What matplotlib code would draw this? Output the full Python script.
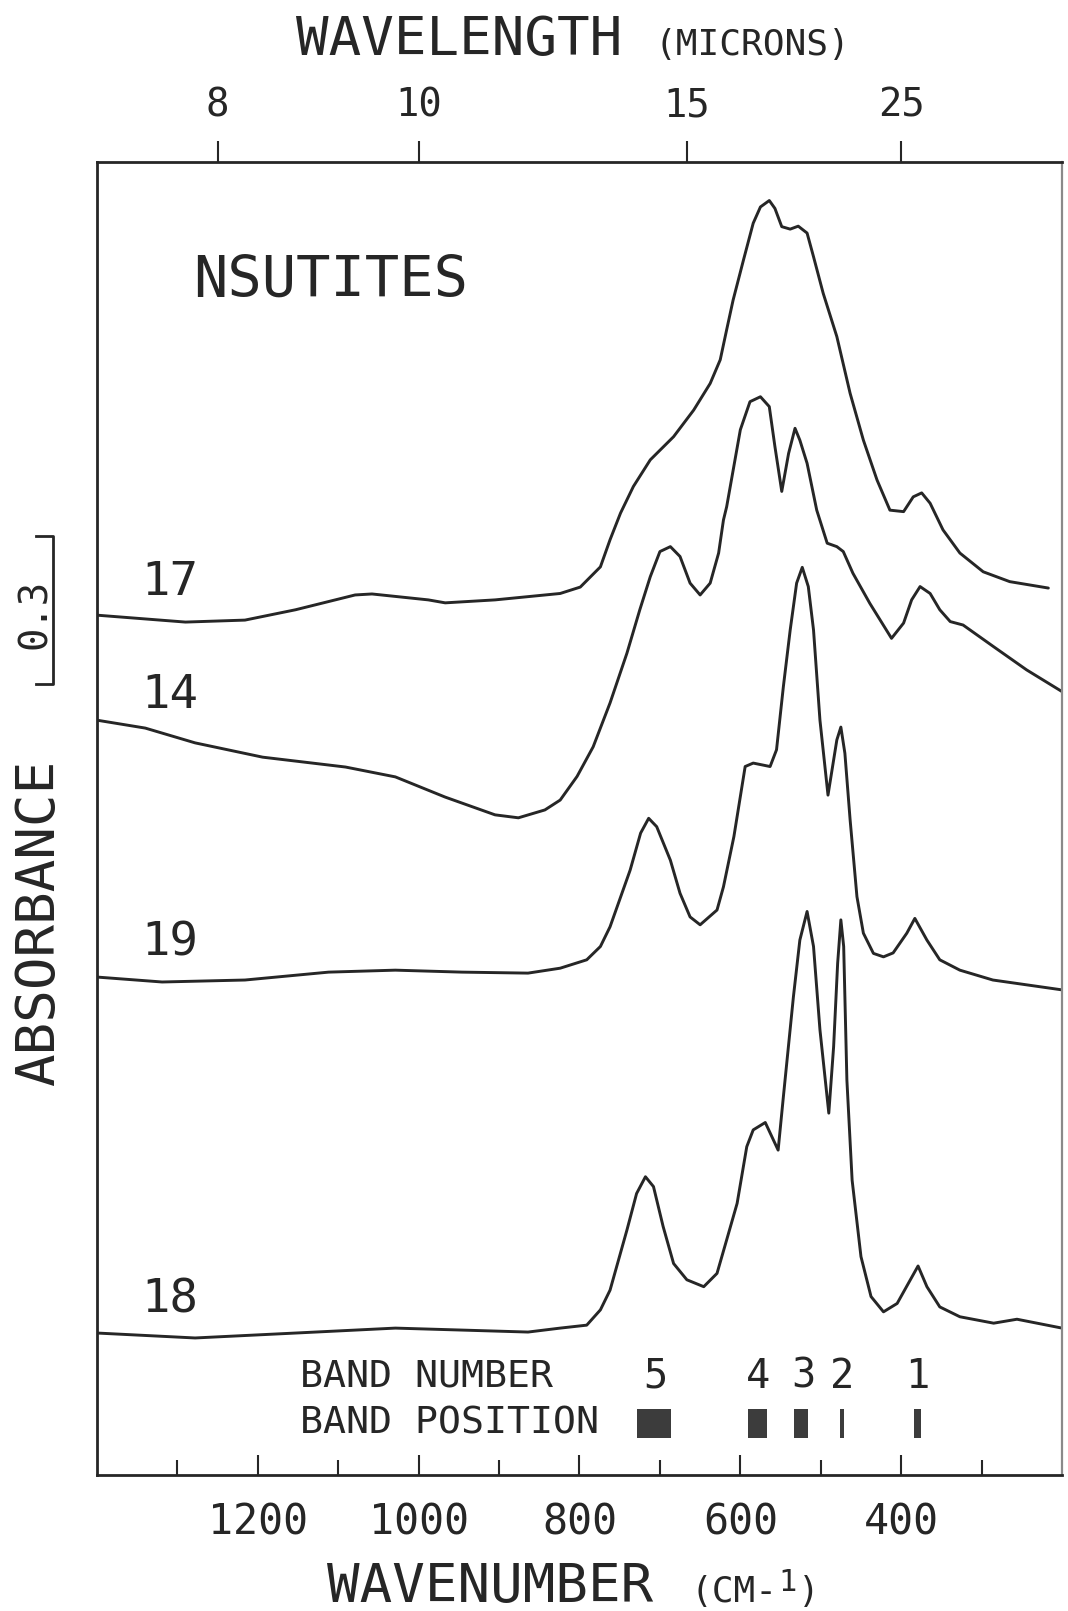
import numpy as np
import matplotlib
matplotlib.use("Agg")
import matplotlib.pyplot as plt
import matplotlib.transforms as mtransforms

# ---------------- data (wavenumber cm-1, absorbance with offsets) ----------------
wn17 = [1400, 1290, 1216, 1153, 1079, 1058, 988, 967, 905, 824, 799, 774, 762, 749,
        733, 712, 683, 658, 637.5, 625, 617, 609, 596, 584, 575, 564, 557, 548.5,
        538, 528, 517, 509, 497, 480, 463.5, 447, 430, 414, 397, 385, 374.5, 364,
        348, 327, 298, 265, 217]
ab17 = [1.744, 1.730, 1.734, 1.755, 1.785, 1.787, 1.775, 1.769, 1.775, 1.788, 1.801,
        1.842, 1.897, 1.951, 2.005, 2.059, 2.106, 2.160, 2.214, 2.262, 2.323, 2.383,
        2.465, 2.539, 2.572, 2.585, 2.569, 2.532, 2.527, 2.533, 2.519, 2.471, 2.397,
        2.309, 2.194, 2.099, 2.018, 1.957, 1.954, 1.984, 1.992, 1.971, 1.917, 1.870,
        1.832, 1.812, 1.799]

wn14 = [1400, 1340, 1278, 1194, 1091, 1029, 967, 905, 876, 843, 824, 803, 783, 762,
        741, 725, 712, 700, 687, 675, 662.5, 650, 637.5, 627, 621, 617, 600, 588,
        575, 564, 557, 548.5, 540, 532, 526, 517, 505, 492, 480, 472, 460, 439,
        412, 397, 387, 376.5, 364, 352, 339, 323, 285, 244, 200]
ab14 = [1.531, 1.515, 1.485, 1.456, 1.436, 1.416, 1.375, 1.339, 1.333, 1.349, 1.369,
        1.417, 1.477, 1.566, 1.667, 1.755, 1.822, 1.873, 1.883, 1.863, 1.809, 1.785,
        1.809, 1.870, 1.937, 1.964, 2.120, 2.177, 2.187, 2.167, 2.086, 1.995, 2.072,
        2.123, 2.099, 2.052, 1.957, 1.890, 1.883, 1.873, 1.829, 1.768, 1.697, 1.728,
        1.775, 1.802, 1.788, 1.755, 1.731, 1.724, 1.680, 1.633, 1.589]

wn19 = [1400, 1319, 1216, 1112, 1029, 946, 864, 824, 791, 774, 762, 737, 724, 714,
        704, 687, 675, 662.5, 650, 629, 621, 608, 594, 584, 563, 555, 546.5, 538,
        530, 523, 515.5, 509, 501, 491, 480, 475, 470, 463.5, 455, 447, 434.5,
        422, 410, 393, 383, 368, 352, 327, 286, 200]
ab19 = [1.010, 1.000, 1.004, 1.020, 1.024, 1.020, 1.018, 1.028, 1.045, 1.072, 1.112,
        1.227, 1.302, 1.332, 1.315, 1.247, 1.180, 1.132, 1.116, 1.146, 1.193, 1.295,
        1.437, 1.444, 1.437, 1.471, 1.599, 1.714, 1.809, 1.841, 1.802, 1.714, 1.531,
        1.379, 1.491, 1.517, 1.464, 1.329, 1.173, 1.099, 1.058, 1.051, 1.059, 1.099,
        1.129, 1.085, 1.045, 1.024, 1.004, 0.984]

wn18 = [1400, 1278, 1153, 1029, 946, 864, 824, 791, 774, 762, 741, 729, 718, 708,
        696, 683, 666.5, 645.5, 629, 617, 604, 592, 584, 569, 553, 546.5, 534, 526,
        517, 509, 501, 490, 484, 479, 475, 471.5, 467.5, 461, 450, 437.5, 422, 405,
        391, 379, 368, 352, 327, 285, 256, 200]
ab18 = [0.288, 0.278, 0.288, 0.298, 0.294, 0.290, 0.298, 0.304, 0.335, 0.375, 0.497,
        0.571, 0.605, 0.585, 0.504, 0.429, 0.396, 0.382, 0.409, 0.477, 0.551, 0.666,
        0.700, 0.715, 0.659, 0.767, 0.970, 1.085, 1.143, 1.072, 0.903, 0.734, 0.869,
        1.038, 1.126, 1.072, 0.801, 0.598, 0.443, 0.362, 0.331, 0.348, 0.389, 0.424,
        0.382, 0.341, 0.321, 0.308, 0.316, 0.298]

spectra = [("17", wn17, ab17), ("14", wn14, ab14), ("19", wn19, ab19), ("18", wn18, ab18)]
label_wn = [1345, 1345, 1345, 1345]
label_ab = [1.811, 1.582, 1.079, 0.355]

band_numbers = ["5", "4", "3", "2", "1"]
band_label_wn = [706, 578, 521, 473, 380]
band_lo = [728, 590, 533, 476, 384]
band_hi = [686, 567, 516, 471, 375]

wavelength_ticks = [8, 10, 15, 25]
wavenumber_major = [1200, 1000, 800, 600, 400]
wavenumber_minor = [1300, 1100, 900, 700, 500, 300]
scale_bar = 0.3

# ---------------- style ----------------
FONT = "DejaVu Sans Mono"
INK = "#262626"
plt.rcParams["font.family"] = [FONT]

fig = plt.figure(figsize=(10.68, 16.11), dpi=100)
ax = fig.add_axes([0.0908, 0.0844, 0.9036, 0.8150])
ax.set_xlim(1400, 200)
ax.set_ylim(0, 2.663)

for name, w, a in spectra:
    ax.plot(w, a, color=INK, lw=2.1, solid_joinstyle="round", solid_capstyle="round")

for (name, _, _), lx, ly in zip(spectra, label_wn, label_ab):
    ax.text(lx, ly, name, fontsize=34, ha="left", va="center", color=INK)

ax.text(1281, 2.422, "NSUTITES", fontsize=41, ha="left", va="center", color=INK)

# band table
ax.text(1147, 0.199, "BAND NUMBER", fontsize=27.5, ha="left", va="center", color=INK)
ax.text(1147, 0.105, "BAND POSITION", fontsize=27.5, ha="left", va="center", color=INK)
for n, p in zip(band_numbers, band_label_wn):
    ax.text(p, 0.199, n, fontsize=29, ha="center", va="center", color=INK)
centers = [(l + h) / 2 for l, h in zip(band_lo, band_hi)]
widths = [l - h for l, h in zip(band_lo, band_hi)]
ax.bar(centers, 0.057, width=widths, bottom=0.076, color="#3c3c3c", edgecolor="none")

# spines / ticks
for s in ["left", "bottom", "top"]:
    ax.spines[s].set_linewidth(2.0)
    ax.spines[s].set_color(INK)
ax.spines["right"].set_linewidth(1.6)
ax.spines["right"].set_color("#8a8a8a")
ax.set_yticks([])
ax.set_xticks(wavenumber_major)
ax.set_xticklabels([str(v) for v in wavenumber_major])
ax.set_xticks(wavenumber_minor, minor=True)
ax.tick_params(axis="x", which="major", direction="in", length=14.5, width=1.5,
               top=True, bottom=True, labelsize=30, pad=19, colors=INK)
ax.tick_params(axis="x", which="minor", direction="in", length=10.8, width=1.5,
               top=True, bottom=True, colors=INK)

# wavelength axis on top
ax2 = ax.twiny()
ax2.set_xlim(ax.get_xlim())
ax2.set_xticks([1e4 / w for w in wavelength_ticks])
ax2.set_xticklabels([str(w) for w in wavelength_ticks])
ax2.tick_params(axis="x", which="major", direction="out", length=15, width=1.5,
                top=True, bottom=False, labelsize=28, pad=12, colors=INK)
for s in ax2.spines.values():
    s.set_visible(False)

# absorbance scale bar
trans = mtransforms.blended_transform_factory(ax.transAxes, ax.transData)
y0 = 1.604
ax.plot([-0.063, -0.0456, -0.0456, -0.063], [y0 + scale_bar, y0 + scale_bar, y0, y0],
        transform=trans, clip_on=False, color=INK, lw=2.0)
fig.text(0.0328, 0.619, "%.1f" % scale_bar, rotation=90, fontsize=28,
         ha="center", va="center", color=INK)

# axis titles
fig.text(0.0365, 0.427, "ABSORBANCE", rotation=90, fontsize=39, ha="center",
         va="center", color=INK)
fig.text(0.2772, 0.9659, "WAVELENGTH", fontsize=39, ha="left", va="baseline", color=INK)
fig.text(0.6124, 0.9659, "(MICRONS)", fontsize=26, ha="left", va="baseline", color=INK)
fig.text(0.3062, 0.0056, "WAVENUMBER", fontsize=39, ha="left", va="baseline", color=INK)
fig.text(0.647, 0.0056, "(CM-", fontsize=26, ha="left", va="baseline", color=INK)
fig.text(0.7285, 0.0125, "1", fontsize=22, ha="left", va="baseline", color=INK)
fig.text(0.7475, 0.0056, ")", fontsize=26, ha="left", va="baseline", color=INK)

fig.savefig("out.png", dpi=100, facecolor="white")
